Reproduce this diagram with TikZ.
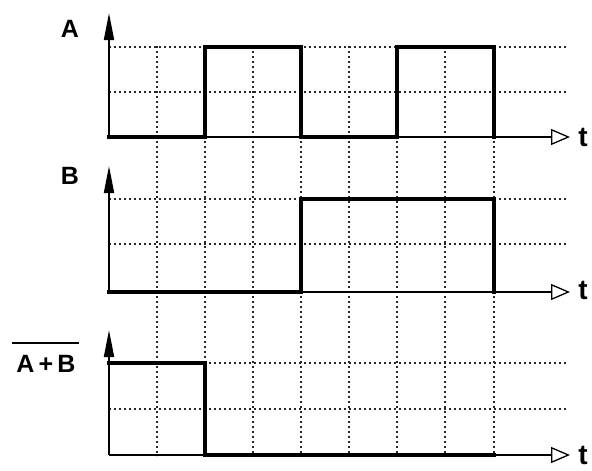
\documentclass[tikz,border=0pt]{standalone}
\usepackage{fontspec}
\setmainfont{Liberation Sans}
\usetikzlibrary{arrows.meta}
\begin{document}
\begin{tikzpicture}[x=1pt,y=-1pt,
  gridline/.style={line width=1.1pt,black!85,dash pattern=on 2.4pt off 2.6pt},
  signal/.style={line width=3.8pt,black,line join=miter,line cap=rect},
  taxis/.style={line width=1.7pt,black,-{Triangle[open,length=19pt,width=16pt,line width=1.3pt]}},
  yaxis/.style={line width=1.9pt,black,-{Triangle[length=27pt,width=10pt]}},
  lbl/.style={font=\fontsize{25}{25}\selectfont\bfseries,inner sep=0pt},
  tlbl/.style={font=\fontsize{28}{28}\selectfont\bfseries,inner sep=0pt}]
\useasboundingbox (0,0) rectangle (592,471);
% vertical grid lines through all panels
\foreach \gx in {157,205,253,301,349,397,445,494}{
  \draw[gridline] (\gx,46) -- (\gx,456);
}
% horizontal grid lines
\foreach \gy in {47,92,199,244,363,409}{
  \draw[gridline] (109,\gy) -- (568,\gy);
}
% origins
\coordinate (oA) at (109,137);
\coordinate (oB) at (109,292);
\coordinate (oC) at (109,455);
\coordinate (yA) at (109,13);
\coordinate (yB) at (109,166);
\coordinate (yC) at (109,330);
\coordinate (eA) at (570,137);
\coordinate (eB) at (570,292);
\coordinate (eC) at (570,455);
% axes
\draw[taxis] (oA) -- (eA);
\draw[taxis] (oB) -- (eB);
\draw[taxis] (oC) -- (eC);
\draw[yaxis] (oA) -- (yA);
\draw[yaxis] (oB) -- (yB);
\draw[yaxis] (oC) -- (yC);
% signals
\draw[signal] (oA) -- (205,137) -- (205,47) -- (301,47) -- (301,137) -- (397,137) -- (397,47) -- (494,47) -- (494,137);
\draw[signal] (oB) -- (301,292) -- (301,199) -- (494,199) -- (494,292);
\draw[signal] (109,363) -- (205,363) -- (205,455) -- (494,455);
% labels
\node[lbl] (lA) at (70,29) {A};
\node[lbl] (lB) at (70,176) {B};
\node[lbl] (lC) at (46,364) {A\,+\,B};
\draw[line width=1.9pt] (12,343) -- (79,343);
\node[tlbl] (tA) at (583,137) {t};
\node[tlbl] (tB) at (583,290) {t};
\node[tlbl] (tC) at (583,455) {t};
\end{tikzpicture}
\end{document}
